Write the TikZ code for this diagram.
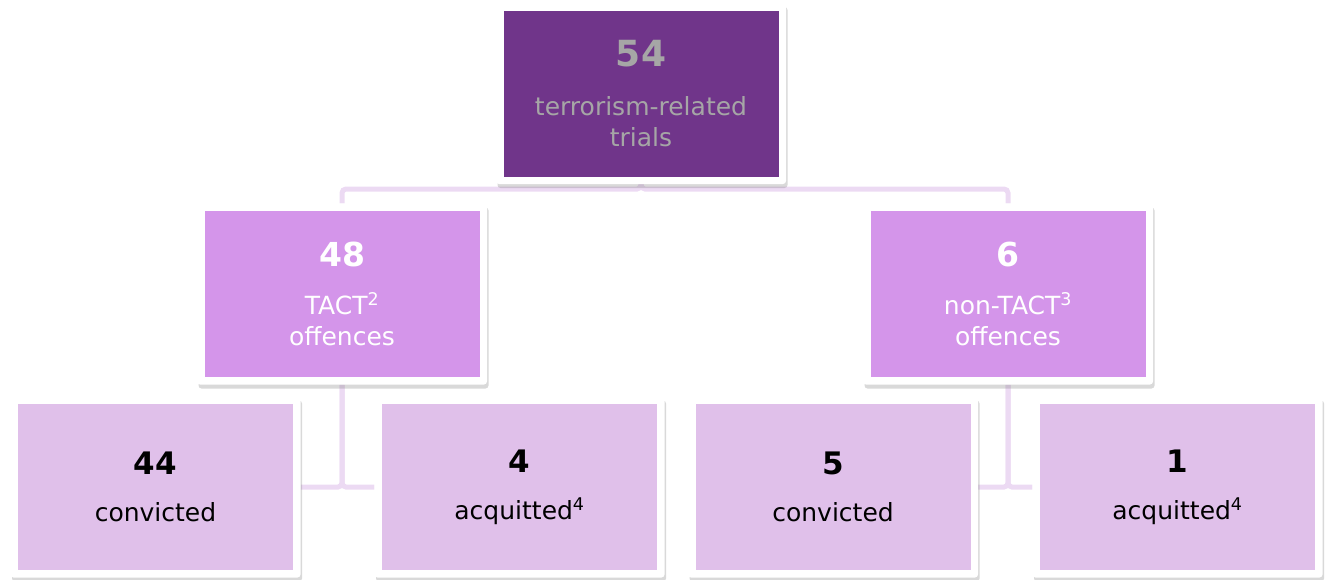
\documentclass[tikz,border=0pt]{standalone}
\usepackage{fontspec}
\setmainfont{DejaVu Sans}
\usepackage{xcolor}
\usepackage{tikz}
\usetikzlibrary{shadows,backgrounds}
\definecolor{plum}{HTML}{70358A}
\definecolor{orchid}{HTML}{D495EA}
\definecolor{lilac}{HTML}{E0C0EA}
\definecolor{linkcol}{HTML}{ECDAF3}
\definecolor{greytxt}{HTML}{A6A6A6}
\newcommand{\tally}[2]{{\fontsize{#1}{#1}\selectfont\bfseries #2}}

\begin{document}
\begin{tikzpicture}[
  x=1pt, y=-1pt,
  font=\fontsize{25}{31}\selectfont,
  card/.style={fill=white, rounded corners=3pt, align=center, inner sep=0pt,
              minimum width=290pt, minimum height=181pt,
              drop shadow={shadow xshift=1.5pt, shadow yshift=-4pt, opacity=.3},
              path picture={\fill[#1, sharp corners]
                ([shift={(7.5pt,7.5pt)}]path picture bounding box.south west) rectangle
                ([shift={(-7.5pt,-7.5pt)}]path picture bounding box.north east);}},
  link/.style={draw=linkcol, line width=5pt, rounded corners=4pt}]
  \useasboundingbox (0,0) rectangle (1329,579);
  \node[card=plum, text=greytxt] (trials) at (641,93.5)
    {\tally{36}{54}\\[18pt] terrorism-related\\trials};
  \node[card=orchid, text=white] (tact) at (342,294)
    {\tally{33}{48}\\[17pt] TACT\textsuperscript{2}\\offences};
  \node[card=orchid, text=white] (nontact) at (1008,294)
    {\tally{33}{6}\\[17pt] non-TACT\textsuperscript{3}\\offences};
  \node[card=lilac, text=black] (conv1) at (155.5,487)
    {\tally{31}{44}\\[16pt] convicted};
  \node[card=lilac, text=black] (acq1) at (519.5,487)
    {\tally{31}{4}\\[16pt] acquitted\textsuperscript{4}};
  \node[card=lilac, text=black] (conv2) at (833,487)
    {\tally{31}{5}\\[16pt] convicted};
  \node[card=lilac, text=black] (acq2) at (1177.5,487)
    {\tally{31}{1}\\[16pt] acquitted\textsuperscript{4}};
  \begin{scope}[on background layer]
    \draw[link] (trials) -- ++(0,95.5) -| (tact);
    \draw[link] (trials) -- ++(0,95.5) -| (nontact);
    \draw[link] (tact) |- (conv1);
    \draw[link] (tact) |- (acq1);
    \draw[link] (nontact) |- (conv2);
    \draw[link] (nontact) |- (acq2);
  \end{scope}
\end{tikzpicture}
\end{document}
